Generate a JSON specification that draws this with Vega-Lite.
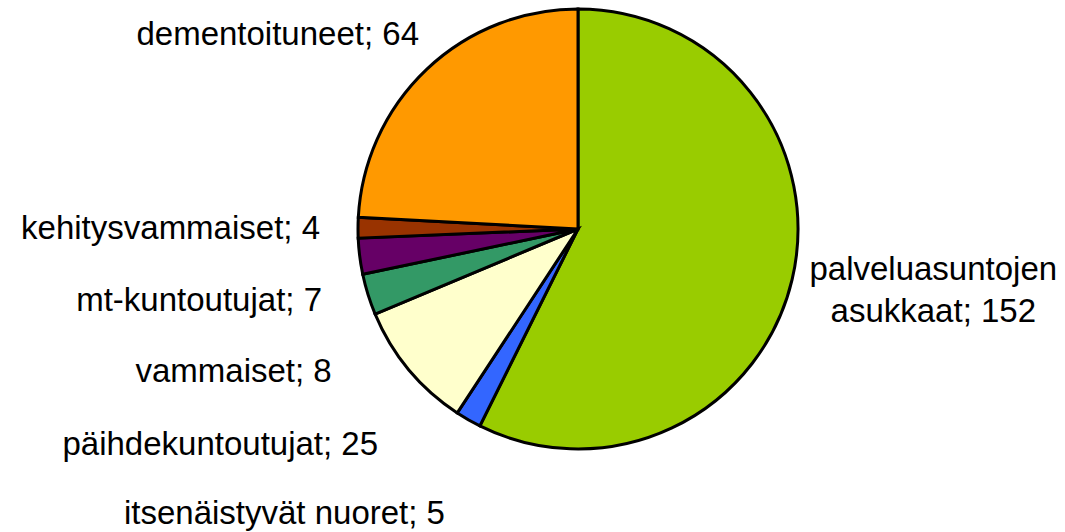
{
  "$schema": "https://vega.github.io/schema/vega-lite/v6.json",
  "width": 440,
  "height": 440,
  "autosize": {"type": "none"},
  "padding": {"left": 358, "top": 9, "right": 267, "bottom": 83},
  "background": "white",
  "config": {"view": {"stroke": null}},
  "data": {
    "values": [
      {"category": "palveluasuntojen asukkaat", "value": 152, "idx": 1, "label": "palveluasuntojen\nasukkaat; 152"},
      {"category": "itsenäistyvät nuoret", "value": 5, "idx": 2, "label": "itsenäistyvät nuoret; 5"},
      {"category": "päihdekuntoutujat", "value": 25, "idx": 3, "label": "päihdekuntoutujat; 25"},
      {"category": "vammaiset", "value": 8, "idx": 4, "label": "vammaiset; 8"},
      {"category": "mt-kuntoutujat", "value": 7, "idx": 5, "label": "mt-kuntoutujat; 7"},
      {"category": "kehitysvammaiset", "value": 4, "idx": 6, "label": "kehitysvammaiset; 4"},
      {"category": "dementoituneet", "value": 64, "idx": 7, "label": "dementoituneet; 64"}
    ]
  },
  "encoding": {
    "theta": {"field": "value", "type": "quantitative", "stack": true},
    "order": {"field": "idx", "type": "quantitative"}
  },
  "layer": [
    {
      "mark": {"type": "arc", "stroke": "black", "strokeWidth": 3, "outerRadius": 220},
      "encoding": {
        "color": {
          "field": "category", "type": "nominal", "legend": null,
          "scale": {
            "domain": ["palveluasuntojen asukkaat", "itsenäistyvät nuoret", "päihdekuntoutujat", "vammaiset", "mt-kuntoutujat", "kehitysvammaiset", "dementoituneet"],
            "range": ["#99CC00", "#3366FF", "#FFFFCC", "#339966", "#660066", "#993300", "#FF9900"]
          }
        }
      }
    },
    {
      "mark": {"type": "text", "radius": 365, "align": "center", "baseline": "middle", "dx": 0, "dy": -43, "fontSize": 33, "font": "Liberation Sans", "lineBreak": "\n", "lineHeight": 42, "fill": "black"},
      "encoding": {"text": {"condition": {"test": "datum.category === 'palveluasuntojen asukkaat'", "field": "label"}, "value": ""}}
    },
    {
      "mark": {"type": "text", "radius": 267, "align": "right", "baseline": "middle", "dx": 0, "dy": 54, "fontSize": 33, "font": "Liberation Sans", "fill": "black"},
      "encoding": {"text": {"condition": {"test": "datum.category === 'itsenäistyvät nuoret'", "field": "label"}, "value": ""}}
    },
    {
      "mark": {"type": "text", "radius": 260, "align": "right", "baseline": "middle", "dx": 0, "dy": 50, "fontSize": 33, "font": "Liberation Sans", "fill": "black"},
      "encoding": {"text": {"condition": {"test": "datum.category === 'päihdekuntoutujat'", "field": "label"}, "value": ""}}
    },
    {
      "mark": {"type": "text", "radius": 258, "align": "right", "baseline": "middle", "dx": 0, "dy": 66, "fontSize": 33, "font": "Liberation Sans", "fill": "black"},
      "encoding": {"text": {"condition": {"test": "datum.category === 'vammaiset'", "field": "label"}, "value": ""}}
    },
    {
      "mark": {"type": "text", "radius": 258, "align": "right", "baseline": "middle", "dx": 0, "dy": 40, "fontSize": 33, "font": "Liberation Sans", "fill": "black"},
      "encoding": {"text": {"condition": {"test": "datum.category === 'mt-kuntoutujat'", "field": "label"}, "value": ""}}
    },
    {
      "mark": {"type": "text", "radius": 258, "align": "right", "baseline": "middle", "dx": 0, "dy": 2, "fontSize": 33, "font": "Liberation Sans", "fill": "black"},
      "encoding": {"text": {"condition": {"test": "datum.category === 'kehitysvammaiset'", "field": "label"}, "value": ""}}
    },
    {
      "mark": {"type": "text", "radius": 358, "align": "center", "baseline": "middle", "dx": -54, "dy": 66, "fontSize": 33, "font": "Liberation Sans", "fill": "black"},
      "encoding": {"text": {"condition": {"test": "datum.category === 'dementoituneet'", "field": "label"}, "value": ""}}
    }
  ]
}
